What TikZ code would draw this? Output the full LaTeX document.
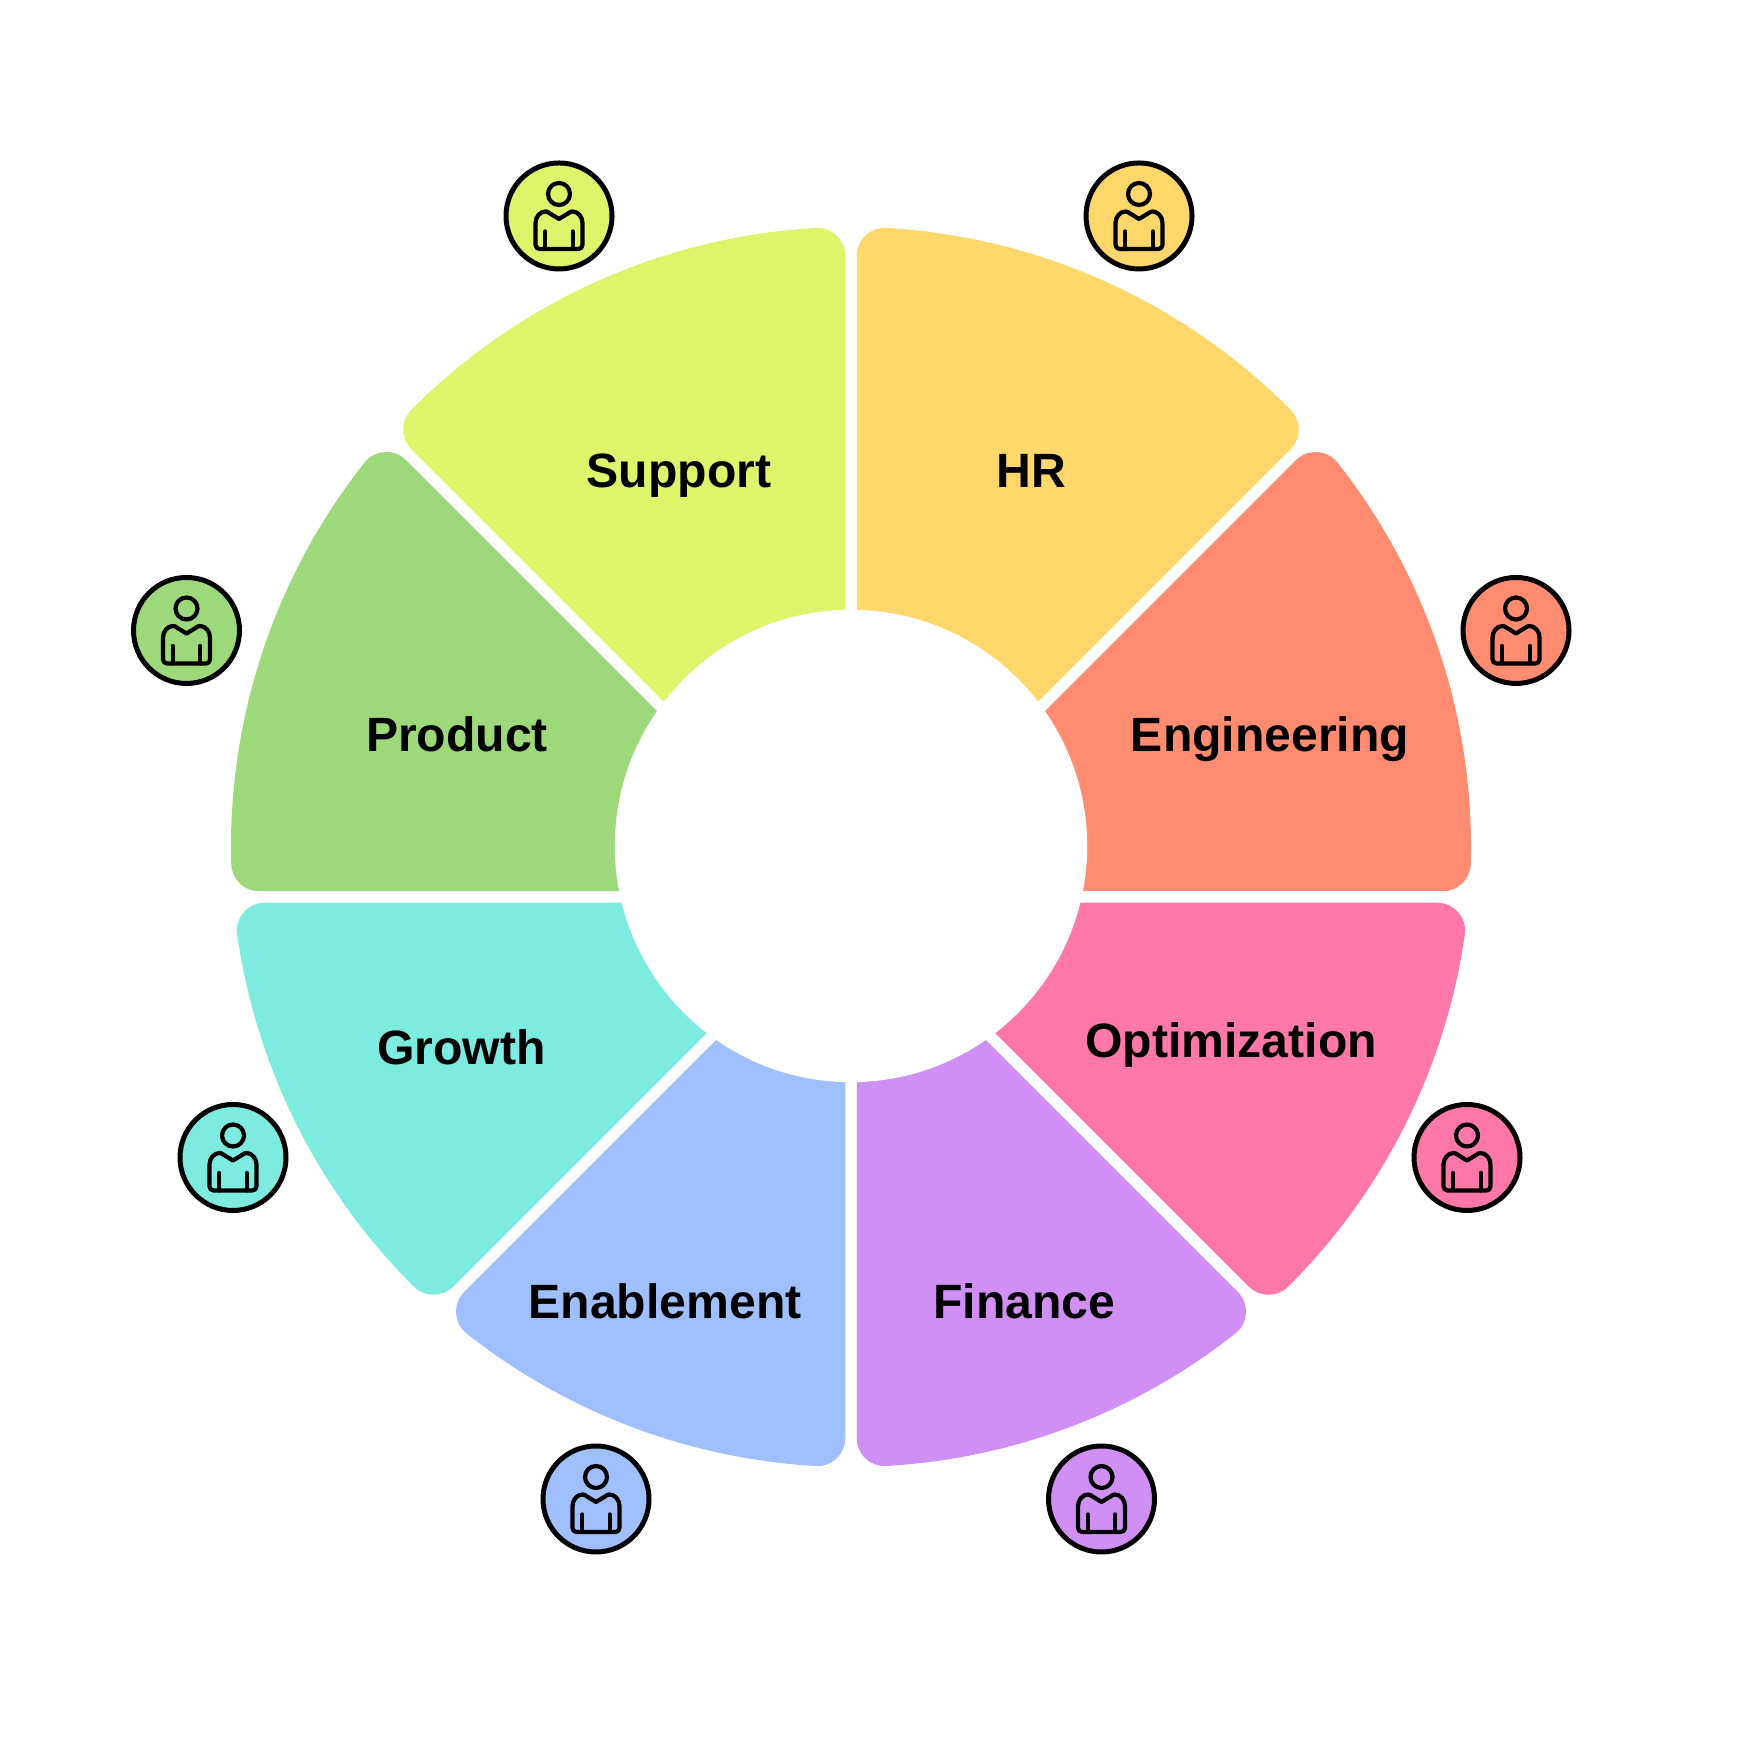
\documentclass[tikz,border=0pt]{standalone}
\usepackage{fontspec}
\setmainfont{Liberation Sans}
\definecolor{cHR}{HTML}{FFD76B}
\definecolor{cEng}{HTML}{FF8C70}
\definecolor{cOpt}{HTML}{FF78A9}
\definecolor{cFin}{HTML}{CF8FF5}
\definecolor{cEna}{HTML}{9FBFFF}
\definecolor{cGro}{HTML}{7DEBE0}
\definecolor{cPro}{HTML}{9DD87B}
\definecolor{cSup}{HTML}{DDF56B}
\tikzset{
  badge/.style={circle,draw=black,line width=.05cm,minimum size=1.06cm,inner sep=0pt},
  seglabel/.style={anchor=base,inner sep=0pt,font=\fontsize{13.7pt}{16pt}\selectfont\bfseries,text=black},
  figure line/.style={x=.01cm,y=-.01cm,draw=black,line width=.042cm,line join=round,line cap=round}
}
% centre of the spokes and of the outer rim (100 px = 1 unit)
\def\Px{8.51}\def\Py{8.59}\def\Cx{8.51}\def\Cy{9.09}
\def\Rr{5.92}\def\Dd{0.3375}
\newcommand\wedgeseg[3]{%
  \pgfmathsetmacro\qax{-\Dd*sin(#1)}%
  \pgfmathsetmacro\qay{\Dd*cos(#1)+\Py-\Cy}%
  \pgfmathsetmacro\ba{\qax*cos(#1)+\qay*sin(#1)}%
  \pgfmathsetmacro\ta{-\ba+sqrt(\ba*\ba-\qax*\qax-\qay*\qay+\Rr*\Rr)}%
  \pgfmathsetmacro\eax{\qax+\ta*cos(#1)}%
  \pgfmathsetmacro\eay{\qay+\ta*sin(#1)}%
  \pgfmathsetmacro\aa{atan2(\eay,\eax)}%
  \pgfmathsetmacro\qbx{\Dd*sin(#2)}%
  \pgfmathsetmacro\qby{-\Dd*cos(#2)+\Py-\Cy}%
  \pgfmathsetmacro\bb{\qbx*cos(#2)+\qby*sin(#2)}%
  \pgfmathsetmacro\tb{-\bb+sqrt(\bb*\bb-\qbx*\qbx-\qby*\qby+\Rr*\Rr)}%
  \pgfmathsetmacro\ebx{\qbx+\tb*cos(#2)}%
  \pgfmathsetmacro\eby{\qby+\tb*sin(#2)}%
  \pgfmathsetmacro\ab{atan2(\eby,\ebx)}%
  \pgfmathsetmacro\ab{\ab<\aa ? \ab+360 : \ab}%
  \pgfmathsetmacro\apx{\Px+\Dd/sin(22.5)*cos((#1+#2)/2)}%
  \pgfmathsetmacro\apy{\Py+\Dd/sin(22.5)*sin((#1+#2)/2)}%
  \path[fill=#3,draw=#3,line width=.56cm,line join=round]
    (\apx,\apy) -- ({\Cx+\eax},{\Cy+\eay})
    arc[start angle=\aa,end angle=\ab,radius=\Rr] -- cycle;
}
\newcommand\personicon[4]{%
  \node[badge,fill=#4] (#1) at (#2,#3) {};
  \draw[figure line,shift={(#1.center)}]
    (0,-22) circle[radius=11];
  \draw[figure line,shift={(#1.center)}]
    (0,3) -- (-9,-2.5) .. controls (-10.5,-3.8) and (-12,-4.5) .. (-13.5,-4.5)
    .. controls (-19,-4.5) and (-23.5,1) .. (-23.5,7) -- (-23.5,29)
    .. controls (-23.5,31.5) and (-21.5,33) .. (-19.5,33) -- (19.5,33)
    .. controls (21.5,33) and (23.5,31.5) .. (23.5,29) -- (23.5,7)
    .. controls (23.5,1) and (19,-4.5) .. (13.5,-4.5)
    .. controls (12,-4.5) and (10.5,-3.8) .. (9,-2.5) -- cycle;
  \draw[figure line,shift={(#1.center)}] (-13.7,15.5) -- (-13.7,33);
  \draw[figure line,shift={(#1.center)}] (13.7,15.5) -- (13.7,33);
}
\begin{document}
\begin{tikzpicture}
\useasboundingbox (0,0) rectangle (17.56,17.56);
\fill[white] (0,0) rectangle (17.56,17.56);
\wedgeseg{45}{90}{cHR}
\wedgeseg{0}{45}{cEng}
\wedgeseg{-45}{0}{cOpt}
\wedgeseg{-90}{-45}{cFin}
\wedgeseg{-135}{-90}{cEna}
\wedgeseg{-180}{-135}{cGro}
\wedgeseg{135}{180}{cPro}
\wedgeseg{90}{135}{cSup}
\fill[white] (8.51,9.10) circle[radius=2.362];
\node[seglabel] (lHR) at (10.31,12.68) {HR};
\node[seglabel] (lEng) at (12.70,10.04) {Engineering};
\node[seglabel] (lOpt) at (12.31,6.98) {Optimization};
\node[seglabel] (lFin) at (10.245,4.37) {Finance};
\node[seglabel] (lEna) at (6.65,4.37) {Enablement};
\node[seglabel] (lGro) at (4.615,6.91) {Growth};
\node[seglabel] (lPro) at (4.57,10.04) {Product};
\node[seglabel] (lSup) at (6.79,12.68) {Support};
\personicon{iHR}{11.39}{15.40}{cHR}
\personicon{iEng}{15.16}{11.255}{cEng}
\personicon{iOpt}{14.67}{5.985}{cOpt}
\personicon{iFin}{11.015}{2.57}{cFin}
\personicon{iEna}{5.96}{2.57}{cEna}
\personicon{iGro}{2.33}{5.985}{cGro}
\personicon{iPro}{1.865}{11.255}{cPro}
\personicon{iSup}{5.59}{15.40}{cSup}
\end{tikzpicture}
\end{document}
